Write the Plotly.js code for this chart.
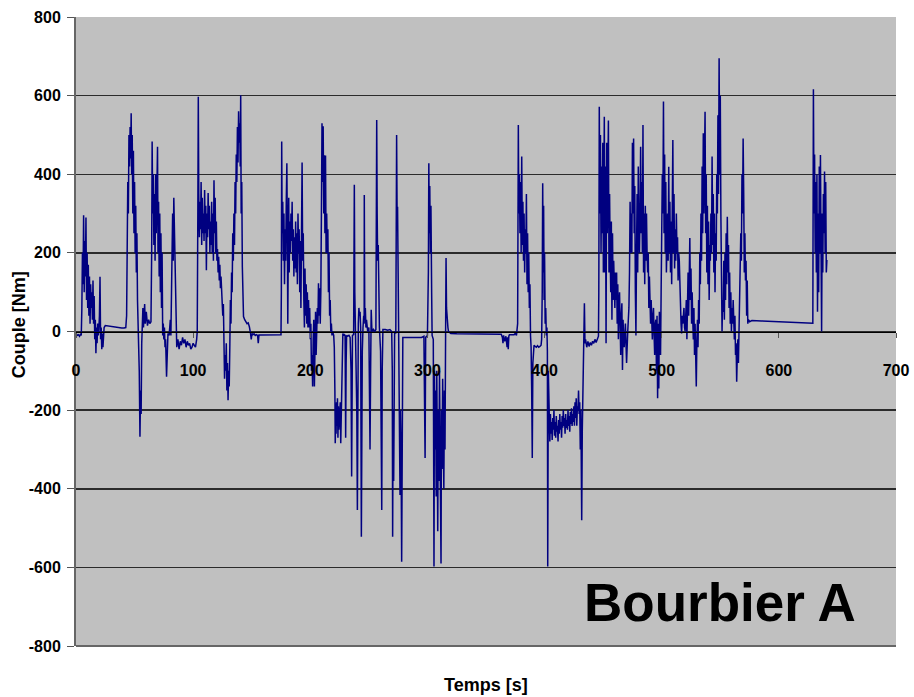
<!DOCTYPE html>
<html>
<head>
<meta charset="utf-8">
<script src="https://cdn.plot.ly/plotly-3.0.1.min.js"></script>
<style>
  html, body { margin: 0; padding: 0; background: #ffffff; }
  #chart { width: 914px; height: 697px; }
</style>
</head>
<body>
<div id="chart"></div>
<script>
const time_s = [
  0,1,2,3,4,4.5,5,5.5,6,6.5,
  7,7.5,8,8.5,9,9.5,10,10.5,11,11.5,
  12,12.5,13,13.5,14,14.5,15,15.5,16,16.5,
  17,17.5,18,18.5,19,19.5,20,20.5,21,21.5,
  22,22.5,23,23.5,24,25,27,29,31,33,
  35,37,39,41,42.5,43.2,43.7,44.2,44.7,45.2,
  45.7,46.2,46.7,47.1,47.5,48,48.5,49,49.5,50,
  50.5,51,51.5,52,52.5,53,53.5,54,54.6,55.1,
  55.6,56.1,56.6,57.1,57.6,58.1,58.6,59.1,60,61,
  62,63,64,64.6,65,65.5,66,66.5,67,67.5,
  68,68.5,69,69.6,70,70.5,71,71.5,72,72.5,
  73,73.5,74,74.5,75,75.5,76,76.5,77.3,77.8,
  78.5,79.5,80.5,81,81.5,82,82.5,83,83.5,84,
  84.5,85,85.5,86,87,88,89,90,91,92,
  93,94,95,96,97,98,99,100,101,102,
  103,103.5,104,104.4,104.8,105.3,105.8,106.3,106.8,107.3,
  107.8,108.3,108.8,109.3,109.8,110.3,110.8,111.3,111.8,112.3,
  112.8,113.3,113.8,114.3,114.8,115.3,115.8,116.3,116.8,117.3,
  117.8,118.3,118.8,119.3,119.8,120.3,120.8,121.3,121.8,122.3,
  122.8,123.3,123.8,124.3,124.8,125.3,125.8,126.3,126.8,127.3,
  127.8,128.3,128.8,129.3,129.8,130.3,130.8,131.3,131.8,132.3,
  132.8,133.3,133.8,134.3,134.8,135.3,135.8,136.3,136.8,137.3,
  137.8,138.3,138.8,139.3,139.8,140.2,140.6,141,141.5,142,
  142.5,143,144,145,146,147,148,149,149.6,150.2,
  151,152,153,154,155,155.6,156.2,157,159,161,
  163,165,167,169,171,173,175,175.3,175.6,176,
  176.5,177,177.5,178,178.5,179,179.5,180,180.4,180.8,
  181.2,181.6,182,182.5,183,183.5,184,184.5,185,185.5,
  186,186.5,187,187.5,188,188.5,189,189.5,190,190.5,
  191,191.5,192,192.5,193,193.5,194,194.5,195,195.5,
  196,196.5,197,197.5,198,198.5,199,199.5,200,200.5,
  201,201.5,202,202.5,203,203.5,204,204.5,205,205.5,
  206,206.5,207,207.5,208,208.5,209,209.5,210,210.5,
  211,211.5,212,212.5,213,213.5,214,214.5,215,215.5,
  216,216.5,217,217.5,218,218.5,219,220,220.5,221,
  221.3,221.7,222,222.4,222.8,223.2,223.6,224,224.4,224.8,
  225.2,225.6,226,226.4,226.8,227.2,227.8,228.5,229,229.7,
  230.2,230.6,231,232,233,234,234.8,235.3,235.7,236,
  237,237.6,238,238.5,239,239.7,240.2,240.6,241,241.5,
  242,242.5,243,243.6,244,244.4,245,245.6,246,246.1,
  246.5,247,247.5,248,249,250,250.5,251,251.5,252,
  252.5,253,254,255,256,256.3,256.7,257.1,257.5,258,
  258.5,259,260,260.5,261,261.4,261.8,262,264,266,
  268,269.5,270,270.3,270.7,271.2,271.7,272,273,273.4,
  273.7,274.1,274.5,275,275.5,276,276.6,277,277.5,278,
  278.4,278.8,279,281,283,285,287,289,291,293,
  295,297,298,298.5,300,300.8,301.2,301.6,302,302.5,
  303,303.6,304,305,305.6,306,306.5,307,307.5,308,
  308.8,309.3,309.8,310.3,310.8,311.6,312,312.5,313,313.5,
  314,314.5,315,315.5,315.9,316.3,316.8,317.5,318,319,
  320,325,330,335,340,345,350,355,360,363,
  364,364.5,365,366,367,368,368.5,369,369.5,370,
  372,374,375,376,377,377.3,377.6,378,378.5,379,
  379.5,380,380.5,381,381.5,382,382.5,383,383.5,384,
  384.5,385,385.5,386,386.5,387,387.5,388,388.5,389,
  389.5,390,390.5,391,392,393,394,395,396,397,
  397.5,398,398.4,398.8,399.2,399.6,400,400.5,401,401.5,
  402,402.4,402.7,403.2,404,404.5,405,405.5,406,406.5,
  407,407.5,408,408.5,409,409.5,410,410.5,411,411.5,
  412,412.5,413,413.5,414,414.5,415,415.5,416,416.5,
  417,417.5,418,418.5,419,419.5,420,420.5,421,421.5,
  422,422.5,423,423.5,424,424.5,425,425.5,426,426.5,
  427,427.5,428,428.5,429,429.5,430,430.5,431,431.7,
  432.2,432.7,433.3,434,434.5,435,436,437,438,439,
  440,441,442,443,444,445,446,446.3,446.7,447.2,
  447.7,448.2,448.7,449.2,449.7,450.2,450.7,451,451.5,452,
  452.5,453,453.5,454,454.5,455,455.5,456,456.5,457,
  457.5,458,458.5,459,459.5,460,460.5,461,461.5,462,
  462.5,463,463.5,464,464.5,465,465.5,466,466.5,467,
  467.5,468,469,469.5,470,471,472,472.5,473,473.5,
  474,474.5,475,475.5,476,476.5,477,477.5,478,478.5,
  479,479.5,480,480.5,481,481.5,482,482.5,483,483.5,
  484,484.5,485,485.5,486,486.5,487,487.5,488,488.5,
  489,489.5,490,490.5,491,491.5,492,492.5,493,493.5,
  494,494.5,495,495.5,496,496.5,497,497.5,498,498.5,
  499,499.5,500,500.5,501,501.5,502,502.5,503,503.5,
  504,504.5,505,505.5,506,506.5,507,507.5,508,508.5,
  509,509.5,510,510.5,511,511.5,512,512.5,513,513.5,
  514,514.5,515,515.5,516,516.5,517,517.5,518,518.5,
  519,519.5,520,520.5,521,521.5,522,522.5,523,523.5,
  524,524.5,525,525.5,526,526.5,527,527.5,528,528.5,
  529,529.5,530,530.5,531,531.5,532,532.5,533,533.5,
  534,534.5,535,535.5,536,536.5,537,537.5,538,538.5,
  539,539.5,540,540.5,541,541.5,542,542.5,543,543.5,
  544,544.5,545,545.5,546,546.5,547,547.5,548,548.5,
  549,549.5,550,550.5,551,551.5,552,552.5,553,553.5,
  554,554.5,555,555.5,556,556.5,557,557.5,558,558.5,
  559,559.5,560,560.5,561,562,562.5,563,563.5,564,
  564.5,565,565.5,566,566.5,567,567.5,568,568.5,569,
  569.5,570,570.5,571,571.5,572,572.5,573,573.5,574,
  575,577,585,595,605,615,625,629,629.5,630,
  630.5,631,631.5,632,632.5,633,633.5,634,634.5,635,
  635.5,636,636.5,637,637.5,638,638.5,639,639.5,640,
  640.5,641
];
const torque_Nm = [
  -5,-10,-8,-12,-6,-10,60,200,120,296,
  100,230,140,290,80,200,60,170,40,140,
  20,120,60,100,30,130,20,90,-20,30,
  -55,10,-30,20,-10,5,40,139,-20,10,
  -45,-5,-40,5,10,15,14,13,12,11,
  10,10,9,9,10,40,250,380,300,500,
  420,520,440,555,400,500,300,460,250,380,
  200,320,150,250,80,40,-40,-100,-268,-150,
  -210,-30,20,60,10,40,70,20,50,15,
  30,20,25,200,483,300,400,220,350,180,
  400,250,420,470,200,330,140,300,100,250,
  60,200,-10,20,-20,10,-40,-20,-115,-40,
  -5,-10,30,-10,60,200,300,180,340,250,
  200,80,-10,-40,-20,-45,-25,-35,-15,-30,
  -20,-40,-25,-35,-30,-45,-40,-30,-35,-40,
  -20,0,300,597,350,240,330,260,380,220,
  340,250,300,230,360,250,320,156,300,240,
  352,260,320,200,280,220,330,200,300,180,
  385,250,340,200,280,180,210,150,190,130,
  170,110,140,90,100,40,70,-20,-120,-60,
  -100,-30,-150,-80,-175,-100,-140,-40,80,20,
  150,100,250,180,300,220,380,300,450,380,
  520,430,560,480,530,420,601,300,380,165,
  80,38,30,25,20,22,12,-5,-20,-5,
  -8,-6,-10,-8,-10,-30,-9,-9,-9,-9,
  -9,-9,-9,-9,-9,-8,-8,100,483,250,
  330,180,300,120,260,180,330,428,250,20,
  200,340,150,280,200,300,230,330,180,260,
  140,240,160,280,150,250,120,300,200,260,
  100,230,60,250,430,180,250,80,10,160,
  40,120,20,100,10,80,10,60,-20,20,
  -100,-60,-140,-20,30,-140,-40,50,-60,20,
  60,20,123,40,110,20,100,300,530,380,
  522,300,448,250,448,200,300,200,260,100,
  200,40,80,0,20,-10,0,-10,-40,-150,
  -284,-200,-260,-180,-240,-170,-270,-190,-250,-200,
  -220,-180,-284,-200,-150,-30,-5,-10,-8,-10,
  -270,-80,-10,-12,-10,-15,-100,-369,-50,-10,
  -8,373,100,-10,-15,-200,-454,-100,20,60,
  40,50,10,-522,-200,-50,10,40,20,347,
  40,60,10,30,0,10,-200,-300,-100,55,
  10,0,5,0,5,200,538,300,180,220,
  120,10,-50,-200,-454,-100,0,5,5,3,
  5,0,-100,-522,-200,-380,-50,0,-5,200,
  500,300,317,150,0,-100,-416,-200,-300,-586,
  -250,-20,-15,-15,-15,-15,-15,-15,-15,-15,
  -15,-12,-322,-15,-10,150,428,250,370,200,
  320,100,-10,-20,-598,-100,-300,-150,-420,-100,
  -508,-200,-380,-100,-450,-590,-200,-350,-120,-300,
  -400,-150,-300,-10,187,60,20,10,0,-3,
  -5,-6,-6,-7,-7,-7,-7,-7,-7,-7,
  -15,-30,-10,-25,-12,-40,-15,-45,-12,-8,
  -8,-8,-5,-10,20,200,525,300,400,250,
  380,200,445,220,330,180,300,150,260,200,
  350,120,250,100,200,60,120,-10,-40,-150,
  -322,-80,-40,-35,-38,-40,-36,-40,-38,-35,
  -20,100,377,150,320,80,200,20,60,-10,
  10,-50,-598,-100,-190,-280,-210,-260,-230,-276,
  -220,-250,-200,-265,-230,-270,-215,-255,-240,-280,
  -225,-260,-210,-250,-230,-270,-215,-245,-200,-240,
  -220,-260,-210,-245,-225,-250,-200,-240,-215,-255,
  -205,-235,-195,-240,-210,-230,-190,-240,-180,-220,
  -170,-240,-190,-200,-150,-210,-180,-300,-200,-480,
  -250,-130,-60,72,-30,-20,-40,-25,-38,-28,
  -35,-25,-30,-20,-28,-18,-12,100,572,300,
  500,200,420,250,480,150,350,546,150,420,
  -30,480,250,400,537,150,350,200,100,280,
  30,250,80,180,100,60,150,80,150,20,
  120,-20,60,100,20,-60,40,72,-98,30,
  -20,-40,20,-30,-80,0,60,150,330,200,
  300,200,480,300,491,250,370,100,-10,200,
  350,150,420,250,200,300,470,250,380,200,
  525,150,300,120,320,180,300,200,150,200,
  60,140,100,20,80,30,-20,40,60,-10,
  -60,20,30,-100,40,-170,20,-145,50,-20,
  -60,100,200,400,300,585,250,450,200,380,
  150,250,300,180,419,200,330,150,280,120,
  250,487,200,350,160,260,180,300,200,240,
  130,200,180,100,60,20,-5,40,20,60,
  60,10,0,40,80,-20,40,150,40,200,
  238,80,160,20,100,30,-20,60,-60,20,
  -100,-140,-30,30,-40,80,20,200,120,300,
  180,420,250,504,300,400,559,250,400,150,
  320,120,280,80,220,180,300,200,445,220,
  350,150,300,100,250,180,400,300,550,350,
  695,400,600,300,200,0,80,50,180,30,
  200,80,250,120,292,150,220,60,150,20,
  100,0,60,20,80,-20,40,-60,-30,-128,
  -60,-20,-80,10,60,120,250,180,400,300,
  491,350,150,250,130,180,40,130,20,30,
  25,28,27,26,25,24,22,21,616,300,
  450,200,380,150,400,50,300,100,420,200,
  449,100,0,300,150,350,250,407,200,380,
  150,182
];
if (time_s.length !== torque_Nm.length) {
  throw new Error('length mismatch ' + time_s.length + ' vs ' + torque_Nm.length);
}

const xTickVals = [0, 100, 200, 300, 400, 500, 600, 700];
const yTickVals = [-800, -600, -400, -200, 0, 200, 400, 600, 800];
const chartLabel = 'Bourbier A';
const xTitle = 'Temps [s]';
const yTitle = 'Couple [Nm]';

const sans = "'Liberation Sans', Arial, sans-serif";

const trace = {
  type: 'scatter',
  mode: 'lines',
  x: time_s,
  y: torque_Nm,
  line: { color: '#000080', width: 1.5 },
  hoverinfo: 'x+y',
  showlegend: false
};

const layout = {
  width: 914,
  height: 697,
  margin: { l: 76, r: 18, t: 17, b: 51 },
  paper_bgcolor: '#ffffff',
  plot_bgcolor: '#c0c0c0',
  showlegend: false,
  xaxis: {
    range: [0, 700],
    tickvals: xTickVals,
    ticktext: xTickVals.map(String),
    anchor: 'free',
    position: 0.5,
    showgrid: false,
    zeroline: false,
    showline: true,
    linecolor: '#000000',
    linewidth: 1.5,
    ticks: 'outside',
    ticklen: 5,
    tickcolor: '#555555',
    ticklabelstandoff: 19,
    tickfont: { family: sans, size: 16, color: '#000000', weight: 'bold' },
    title: { text: '' }
  },
  yaxis: {
    range: [-800, 800],
    tickvals: yTickVals,
    ticktext: yTickVals.map(String),
    showgrid: true,
    gridcolor: '#2b2b2b',
    gridwidth: 1.5,
    zeroline: false,
    showline: true,
    linecolor: '#666666',
    linewidth: 2,
    ticks: 'outside',
    ticklen: 7,
    tickcolor: '#555555',
    ticklabelstandoff: 3,
    tickfont: { family: sans, size: 16, color: '#000000', weight: 'bold' },
    title: { text: '' }
  },
  shapes: [
    { type: 'line', xref: 'paper', yref: 'paper', x0: 0, x1: 1, y0: 0, y1: 0,
      line: { color: '#666666', width: 2 } }
  ],
  annotations: [
    { xref: 'paper', yref: 'paper', x: 0.5, y: -0.062, yanchor: 'middle', xanchor: 'center',
      text: '<b>' + xTitle + '</b>', showarrow: false,
      font: { family: sans, size: 18, color: '#000000' } },
    { xref: 'paper', yref: 'paper', x: -0.0695, y: 0.51, yanchor: 'middle', xanchor: 'center',
      textangle: -90,
      text: '<b>' + yTitle + '</b>', showarrow: false,
      font: { family: sans, size: 18, color: '#000000' } },
    { xref: 'x', yref: 'y', x: 550, y: -690, xanchor: 'center', yanchor: 'middle',
      text: '<b>' + chartLabel + '</b>', showarrow: false,
      font: { family: sans, size: 53, color: '#000000' } }
  ]
};

Plotly.newPlot('chart', [trace], layout, { displayModeBar: false, staticPlot: true });
</script>
</body>
</html>
